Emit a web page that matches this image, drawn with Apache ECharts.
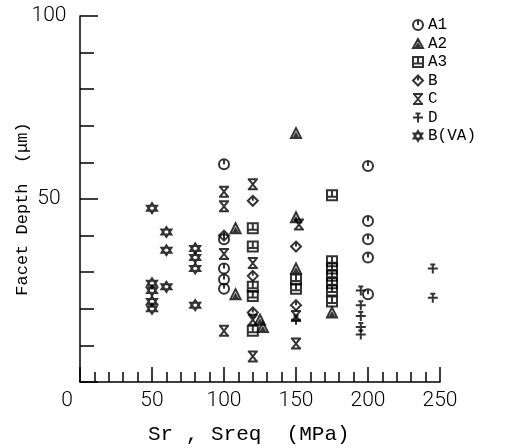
<!DOCTYPE html>
<html><head><meta charset="utf-8">
<script src="https://cdn.jsdelivr.net/npm/echarts@6/dist/echarts.min.js"></script>
<style>html,body{margin:0;padding:0;background:#fff}#c{width:511px;height:448px}</style>
</head><body><div id="c"></div>
<script>
const seriesNames = ['A1','A2','A3','B','C','D','B(VA)'];
const a1X = [100,100,100,100,100,200,200,200,200,200];
const a1Y = [59.5,39,31,28,25.5,59,44,39,34,24];
const a2X = [108,108,150,150,150,175,125,127];
const a2Y = [42,24,68,45,31,19,17,15];
const a3X = [120,120,120,120,120,150,150,175,175,175,175,175,175,175];
const a3Y = [42,37,26,23.5,14,28,25.5,51,33,31,29,27,25,22];
const bX = [100,120,120,120,150,150];
const bY = [40,49.5,29,19,37,21];
const cX = [100,100,100,100,120,120,120,120,152,150,150];
const cY = [52,48,35,14,54,32.5,17,7,43,18,10.5];
const dX = [150,195,195,195,195,195,245,245];
const dY = [17,25,21,18,15,13,31,23];
const bvaX = [50,50,50,50,50,60,60,60,80,80,80,80];
const bvaY = [47.5,27,25,22,20,41,36,26,36.5,34,31,21];
const xTicks = [0,50,100,150,200,250];
const yTicks = [50,100];
const xTitle = 'Sr , Sreq  (MPa)';
const yTitle = 'Facet Depth  (\u03bcm)';

const symbols = [
  'path://M0,-10A10,10 0 1,1 0,10A10,10 0 1,1 0,-10ZM0,-10L0,0',
  'path://M0,-10L10,8L-10,8ZM0,0L3,5L-3,5Z',
  'path://M-10,-10L10,-10L10,10L-10,10ZM0,-10L0,2M-10,3L10,3',
  'path://M0,-10L10,0L0,10L-10,0ZM0,-10L0,0',
  'path://M-10,-10L10,-10M-10,10L10,10M-8,-10L8,10M8,-10L-8,10',
  'path://M0,-10L0,10M-10,0L10,0M-5,-8L5,-8',
  'path://M0,-10L8.66,5L-8.66,5ZM0,10L8.66,-5L-8.66,-5Z'
];
const xs = [a1X,a2X,a3X,bX,cX,dX,bvaX];
const ys = [a1Y,a2Y,a3Y,bY,cY,dY,bvaY];

const chart = echarts.init(document.getElementById('c'));
const series = seriesNames.map((n,i)=>({
  name:n, type:'scatter', symbol:symbols[i], symbolSize:10,
  data: xs[i].map((x,j)=>[x, ys[i][j]]),
  itemStyle:{color:'rgba(0,0,0,0)', borderColor:'#000', borderWidth:2},
  emphasis:{disabled:true}
}));
chart.setOption({
  animation:false,
  grid:{left:80, top:16, right:71, bottom:66, containLabel:false, outerBoundsMode:'none'},
  legend:{
    orient:'vertical', left:407, top:12, itemGap:2.5, itemWidth:10, itemHeight:10,
    data: seriesNames.map((n,i)=>({name:n, icon:symbols[i]})),
    textStyle:{fontFamily:'Liberation Mono', fontSize:16, lineHeight:16, color:'#000'},
    itemStyle:{color:'rgba(0,0,0,0)', borderColor:'#000', borderWidth:2}
  },
  graphic:[
    {type:'text', left:148, top:424, style:{text:xTitle, font:'21px "Liberation Mono"', fill:'#000'}},
    {type:'text', x:22, y:209, rotation:Math.PI/2, style:{text:yTitle, font:'17px "Liberation Mono"', fill:'#000', align:'center', verticalAlign:'middle'}}
  ],
  xAxis:{
    type:'value', min:0, max:250, interval:50,
    axisLine:{lineStyle:{color:'#000', width:1.5}},
    axisTick:{inside:true, length:15, lineStyle:{color:'#000', width:1.5}},
    minorTick:{show:true, splitNumber:5, length:10, lineStyle:{color:'#000', width:1.5}},
    splitLine:{show:false},
    axisLabel:{fontFamily:'Roboto', fontWeight:300, fontSize:21, color:'#000', margin:8,
      formatter:v=>v===0?'{z|0}':(xTicks.includes(v)?String(v):''),
      rich:{z:{fontFamily:'Roboto', fontWeight:300, fontSize:21, color:'#000', padding:[0,26,0,0]}}}
  },
  yAxis:{
    type:'value', min:0, max:100, interval:50,
    axisLine:{lineStyle:{color:'#000', width:1.5}},
    axisTick:{inside:true, length:18, lineStyle:{color:'#000', width:1.5}},
    minorTick:{show:true, splitNumber:5, length:14, lineStyle:{color:'#000', width:1.5}},
    splitLine:{show:false},
    axisLabel:{fontFamily:'Roboto', fontWeight:300, fontSize:21, color:'#000', margin:31, align:'center',
      formatter:v=>yTicks.includes(v)?String(v):''}
  },
  series
});
</script></body></html>
